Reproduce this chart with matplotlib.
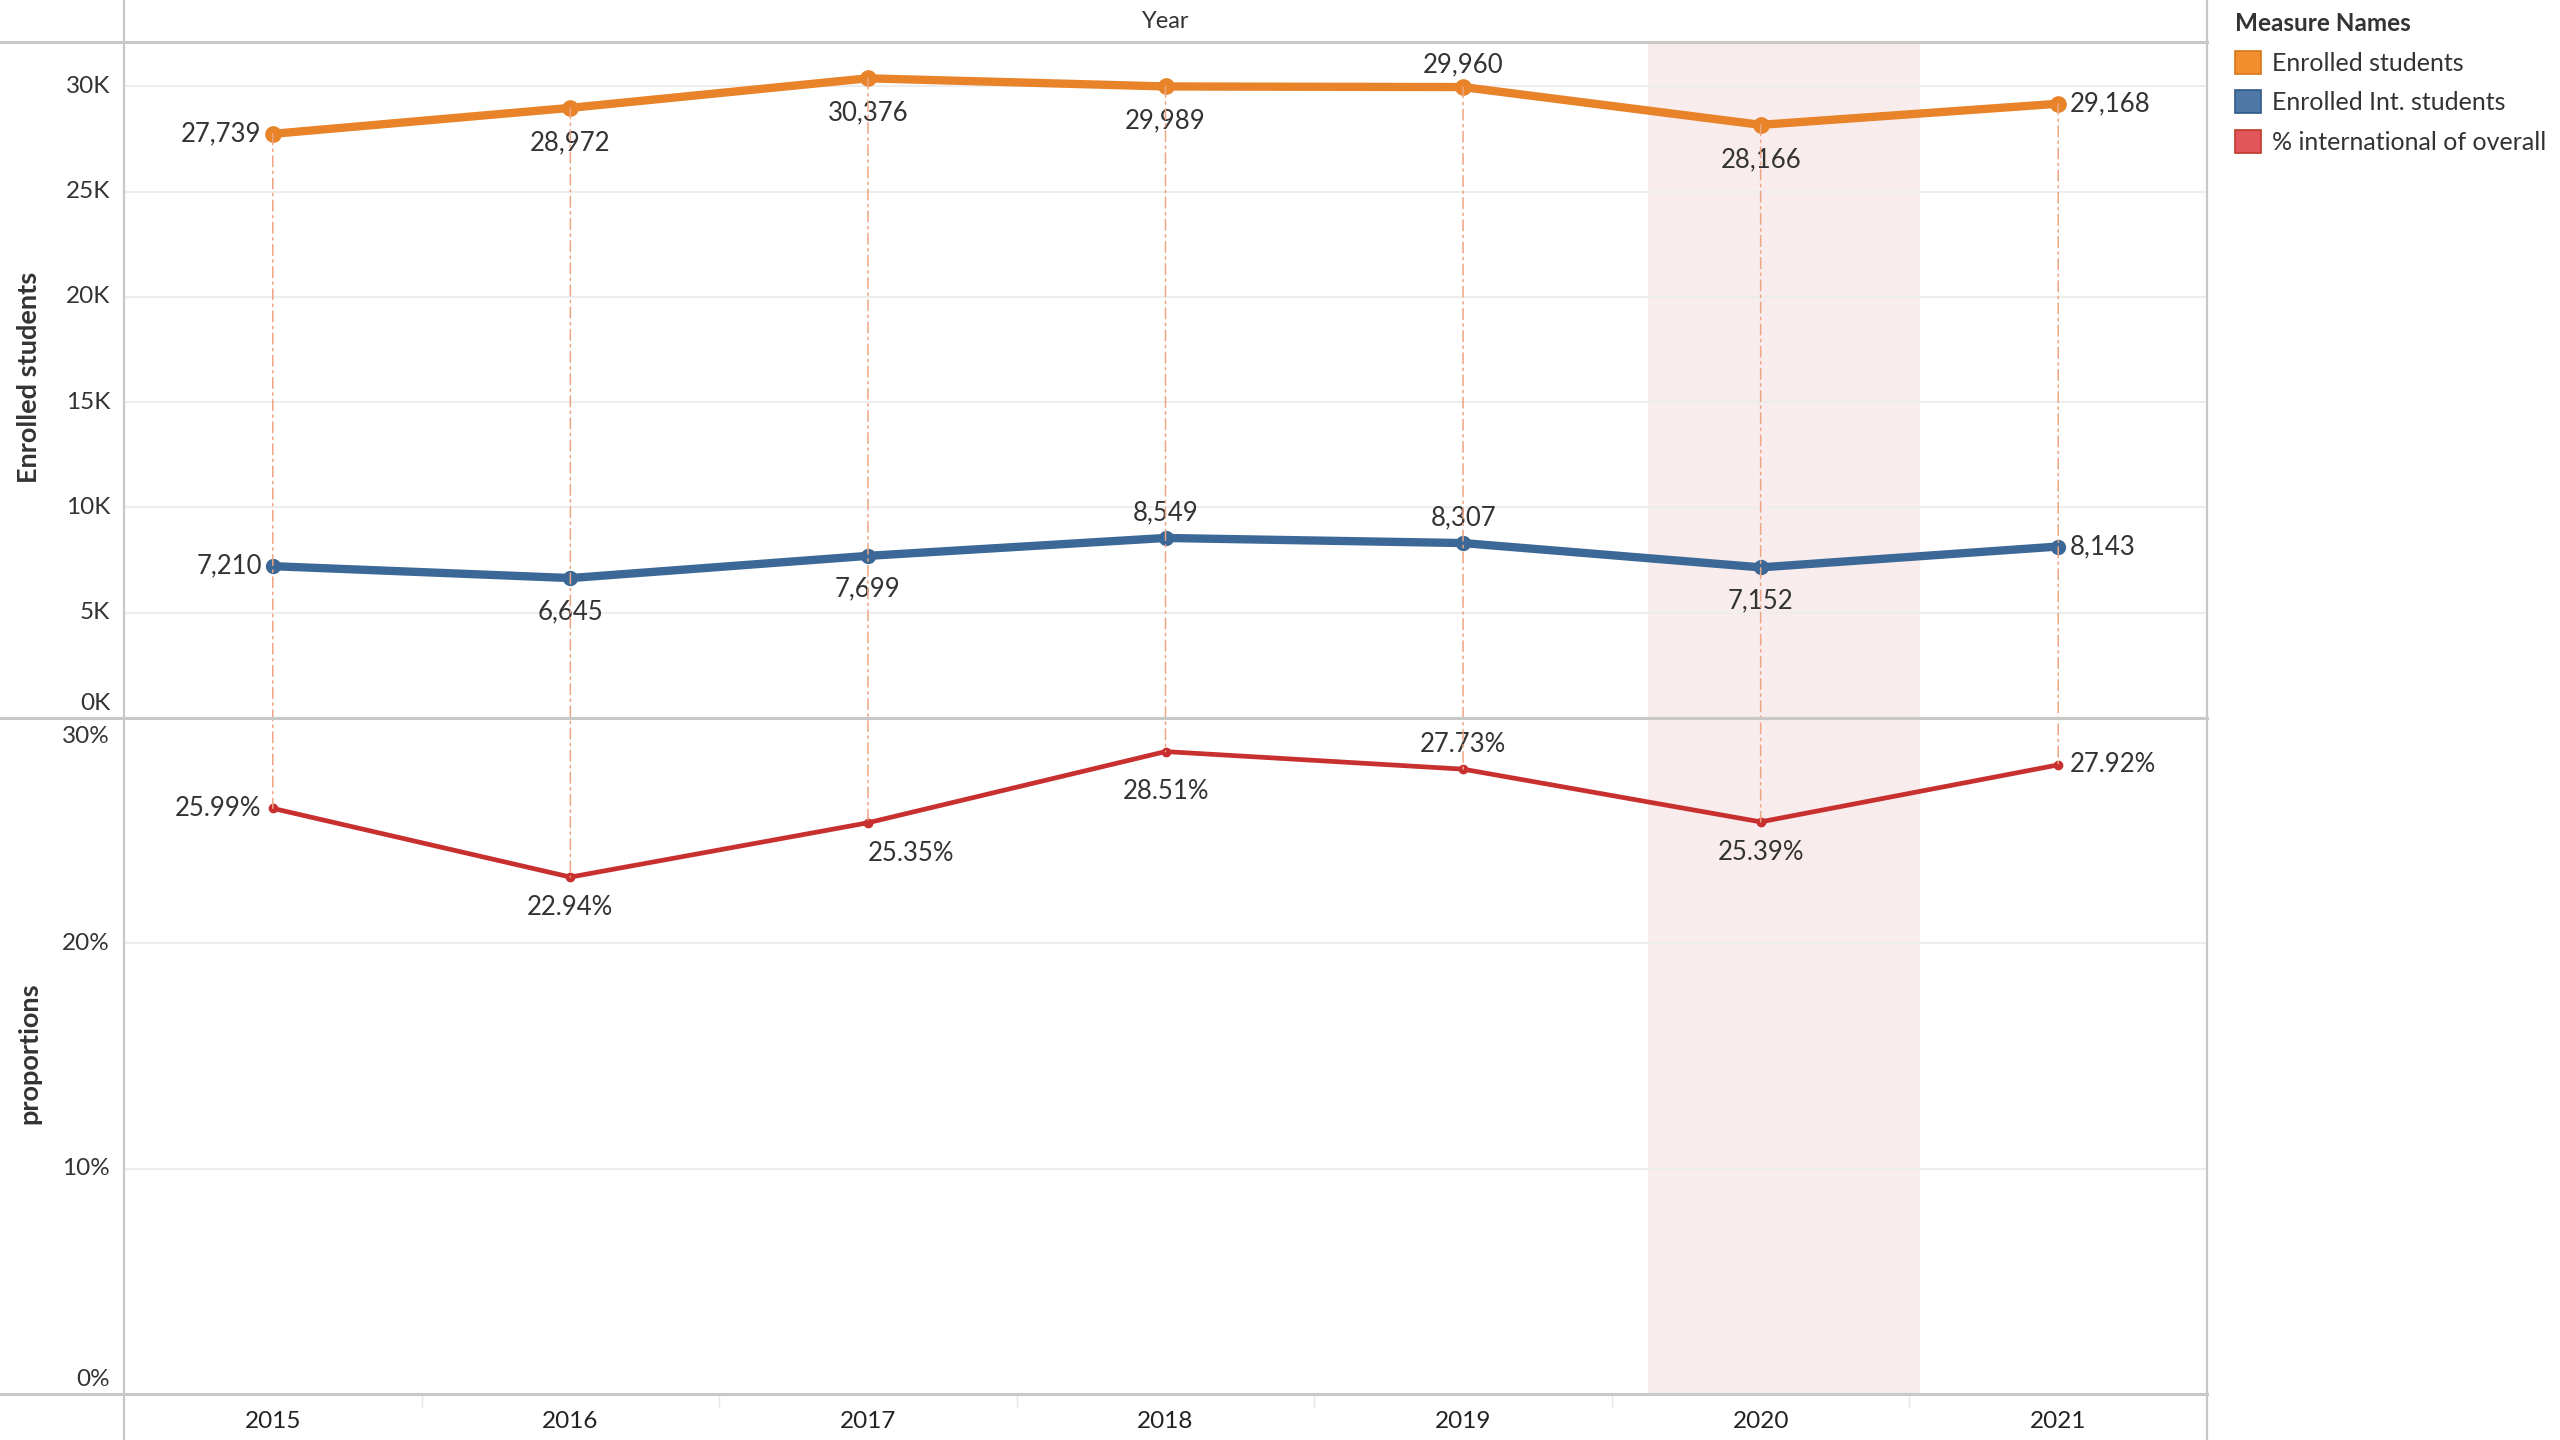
import matplotlib
matplotlib.use("Agg")
import matplotlib.pyplot as plt
from matplotlib.patches import Patch, ConnectionPatch
from matplotlib.lines import Line2D

# ---------------- data ----------------
years = ["2015", "2016", "2017", "2018", "2019", "2020", "2021"]
enrolled = [27739, 28972, 30376, 29989, 29960, 28166, 29168]
enrolled_int = [7210, 6645, 7699, 8549, 8307, 7152, 8143]
pct_int = [25.99, 22.94, 25.35, 28.51, 27.73, 25.39, 27.92]
top_ticks = [0, 5000, 10000, 15000, 20000, 25000, 30000]
top_tick_labels = ["0K", "5K", "10K", "15K", "20K", "25K", "30K"]
bot_ticks = [0, 10, 20, 30]
bot_tick_labels = ["0%", "10%", "20%", "30%"]
legend_labels = ["Enrolled students", "Enrolled Int. students", "% international of overall"]
highlight_year = "2020"

# label placement (style only)
pos_enr = ["left", "below", "below", "below", "above", "below", "right"]
pos_int = ["left", "below", "below", "above", "above", "below", "right"]
pos_pct = ["left", "below", "belowright", "below2", "above", "below", "right"]

# ---------------- style ----------------
plt.rcParams['font.family'] = ['Lato', 'DejaVu Sans']
C_OR = "#E8832A"
C_BL = "#3B6896"
C_RD = "#C8302F"
C_TXT = "#333333"
C_BORDER = "#C8C8C8"
C_GRID = "#EDEDED"
C_BAND = "#F8ECEC"
C_DROP = "#EDA583"
FS_LBL = 18.5
FS_TICK = 17.5

W, H = 2560, 1440
fig = plt.figure(figsize=(25.6, 14.4), dpi=100)
fig.patch.set_facecolor("white")

xl, xr = 124, 2207
yt, ym, yb = 42, 718, 1394
ax_top = fig.add_axes([xl / W, 1 - ym / H, (xr - xl) / W, (ym - yt) / H])
ax_bot = fig.add_axes([xl / W, 1 - yb / H, (xr - xl) / W, (yb - ym) / H])

x = list(range(len(years)))
hi = years.index(highlight_year)

for ax in (ax_top, ax_bot):
    ax.set_xlim(-0.5, len(years) - 0.5)
    for s in ax.spines.values():
        s.set_visible(False)
    ax.axvspan(hi - 0.38, hi + 0.535, color=C_BAND, zorder=0, lw=0)
    ax.set_yticks([])


def ylabels(ax, ticks, labels):
    lo, hi_ = ax.get_ylim()
    for t, lab in zip(ticks, labels):
        if t == lo:
            va, dy = 'bottom', 3
        elif t == hi_:
            va, dy = 'top', -6
        else:
            va, dy = 'center', 0
        ax.annotate(lab, (0, t), xycoords=('axes fraction', 'data'), xytext=(-10, dy),
                    textcoords='offset points', ha='right', va=va, fontsize=FS_TICK,
                    color=C_TXT, annotation_clip=False)


# top pane
ax_top.set_ylim(0, 32100)
for t in top_ticks[1:]:
    ax_top.axhline(t, color=C_GRID, lw=1.5, zorder=1)
ax_top.set_xticks([])
ylabels(ax_top, top_ticks, top_tick_labels)

# bottom pane
ax_bot.set_ylim(0, 30)
for t in bot_ticks[1:-1]:
    ax_bot.axhline(t, color=C_GRID, lw=1.5, zorder=1)
ylabels(ax_bot, bot_ticks, bot_tick_labels)
ax_bot.set_xticks(x)
ax_bot.set_xticklabels(years)
ax_bot.tick_params(axis='x', length=0, pad=12, labelsize=FS_TICK, labelcolor="#222222")
ax_bot.set_xticks([i + 0.5 for i in x[:-1]], minor=True)
ax_bot.tick_params(axis='x', which='minor', length=10, color="#E8E8E8", width=1)

# drop lines from orange point to red point
for i in x:
    cp = ConnectionPatch(xyA=(i, enrolled[i]), coordsA=ax_top.transData,
                         xyB=(i, pct_int[i]), coordsB=ax_bot.transData,
                         color=C_DROP, lw=1.1, linestyle=(0, (7, 3, 1.5, 3)), zorder=2)
    fig.add_artist(cp)

# lines
ax_top.plot(x, enrolled, color=C_OR, lw=6, marker='o', ms=11, zorder=5, solid_capstyle='round')
ax_top.plot(x, enrolled_int, color=C_BL, lw=6, marker='o', ms=10, zorder=5, solid_capstyle='round')
ax_bot.plot(x, pct_int, color=C_RD, lw=3.4, marker='o', ms=6, zorder=5)


def place(ax, xi, yi, text, pos, above=17, below=-23):
    kw = dict(textcoords='offset points', fontsize=FS_LBL, color=C_TXT, zorder=6)
    if pos == "left":
        ax.annotate(text, (xi, yi), xytext=(-8, 0), ha='right', va='center', **kw)
    elif pos == "right":
        ax.annotate(text, (xi, yi), xytext=(8, 0), ha='left', va='center', **kw)
    elif pos == "above":
        ax.annotate(text, (xi, yi), xytext=(0, above), ha='center', va='center', **kw)
    elif pos == "below":
        ax.annotate(text, (xi, yi), xytext=(0, below), ha='center', va='center', **kw)
    elif pos == "below2":
        ax.annotate(text, (xi, yi), xytext=(0, below - 7), ha='center', va='center', **kw)
    elif pos == "belowright":
        ax.annotate(text, (xi, yi), xytext=(0, below), ha='left', va='center', **kw)


for i in x:
    place(ax_top, i, enrolled[i], f"{enrolled[i]:,}", pos_enr[i], above=16, below=-25)
    place(ax_top, i, enrolled_int[i], f"{enrolled_int[i]:,}", pos_int[i], above=18, below=-24)
    place(ax_bot, i, pct_int[i], f"{pct_int[i]:.2f}%", pos_pct[i], above=18, below=-22)

# pane borders
def fline(x0, y0, x1, y1, lw=1.6):
    fig.add_artist(Line2D([x0 / W, x1 / W], [1 - y0 / H, 1 - y1 / H],
                          color=C_BORDER, lw=lw, transform=fig.transFigure, zorder=10))

fline(xl, 0, xl, H)
fline(xr, 0, xr, H)
fline(0, yt, xr, yt, 2.2)
fline(0, ym, xr, ym, 2.2)
fline(0, yb, xr, yb, 2.2)

# titles
fig.text((xl + xr) / 2 / W, 1 - 22 / H, "Year", ha='center', va='center', fontsize=17, color=C_TXT)
fig.text(29 / W, 1 - 377 / H, "Enrolled students", rotation=90, ha='center',
         va='center', fontsize=19.5, fontweight='bold', color=C_TXT)
fig.text(29 / W, 1 - 1053 / H, "proportions", rotation=90, ha='center',
         va='center', fontsize=19.5, fontweight='bold', color=C_TXT)

# legend
handles = [Patch(facecolor="#F28E2B", edgecolor="#D9761A", lw=1.2),
           Patch(facecolor="#4E79A7", edgecolor="#2F5A88", lw=1.2),
           Patch(facecolor="#E15759", edgecolor="#C0392B", lw=1.2)]
leg = fig.legend(handles, legend_labels, title="Measure Names", loc='upper left',
                 bbox_to_anchor=(2230 / W, 1 - 7 / H), frameon=False, alignment='left',
                 fontsize=18, title_fontsize=17.5, handlelength=1.05, handleheight=1.05,
                 handletextpad=0.45, labelspacing=0.62, borderpad=0.2, borderaxespad=0)
leg.get_title().set_fontweight('bold')
leg.get_title().set_color(C_TXT)
for t in leg.get_texts():
    t.set_color(C_TXT)

fig.savefig("out.png", dpi=100, facecolor="white")
